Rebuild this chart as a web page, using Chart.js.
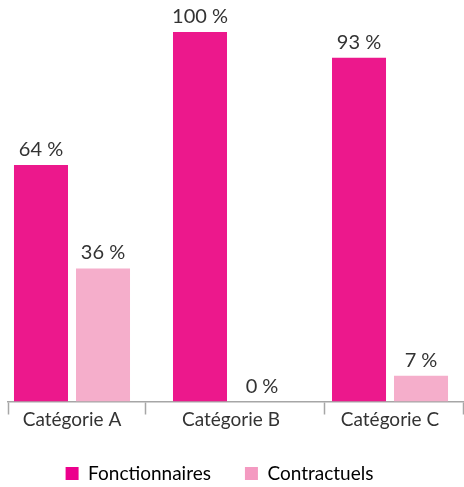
<!DOCTYPE html>
<html>
<head>
<meta charset="utf-8">
<script src="https://cdn.jsdelivr.net/npm/chart.js@4"></script>
<style>
  html, body { margin: 0; padding: 0; background: #fff; }
  #wrap { width: 464px; height: 487px; }
</style>
</head>
<body>
<div id="wrap"><canvas id="statutChart"></canvas></div>
<script>
const categories = ['Catégorie A', 'Catégorie B', 'Catégorie C'];
const fonctionnaires = [64, 100, 93];
const contractuels = [36, 0, 7];
// limites des catégories sur l'axe (unités de l'axe x)
const separateurs = [-0.4025, 0.465, 1.585, 2.459];

const barColors = ['#EC188C', '#F5AECB'];
const legendColors = ['#EC008C', '#F49AC1'];

Chart.defaults.font.family = 'Lato, "Open Sans", sans-serif';
Chart.defaults.color = '#333333';

// Étiquettes de valeur au-dessus des barres
const valueLabels = {
    id: 'valueLabels',
    afterDatasetsDraw(chart) {
        const ctx = chart.ctx;
        ctx.save();
        ctx.font = '20px Lato';
        ctx.fillStyle = '#333333';
        ctx.textAlign = 'center';
        ctx.textBaseline = 'alphabetic';
        chart.data.datasets.forEach((ds, di) => {
            chart.getDatasetMeta(di).data.forEach((bar, i) => {
                ctx.fillText(ds.data[i].y + ' %', bar.x, bar.y - 9);
            });
        });
        ctx.restore();
    }
};

// la légende d'origine est un peu décalée vers la gauche
const legendShift = {
    id: 'legendShift',
    afterLayout(chart) {
        chart.legend.left -= 16;
        chart.legend.right -= 16;
    }
};

new Chart(document.getElementById('statutChart'), {
    type: 'bar',
    data: {
        datasets: [
            {
                label: 'Fonctionnaires',
                data: fonctionnaires.map((v, i) => ({ x: i, y: v })),
                backgroundColor: barColors[0]
            },
            {
                label: 'Contractuels',
                data: contractuels.map((v, i) => ({ x: i, y: v })),
                backgroundColor: barColors[1]
            }
        ]
    },
    options: {
        responsive: true,
        maintainAspectRatio: false,
        animation: false,
        categoryPercentage: 0.78,
        barPercentage: 0.871,
        layout: { padding: { top: 32, left: 8, right: 1, bottom: 0 } },
        plugins: {
            tooltip: { enabled: false },
            legend: {
                position: 'bottom',
                maxHeight: 57,
                labels: {
                    boxWidth: 13,
                    boxHeight: 13,
                    padding: 34,
                    color: '#333333',
                    font: { size: 19 },
                    generateLabels: (chart) => chart.data.datasets.map((ds, i) => ({
                        text: ds.label,
                        fillStyle: legendColors[i],
                        strokeStyle: legendColors[i],
                        lineWidth: 0,
                        datasetIndex: i
                    }))
                }
            }
        },
        scales: {
            x: {
                type: 'linear',
                offset: false,
                bounds: 'data',
                min: separateurs[0],
                max: separateurs[separateurs.length - 1],
                afterBuildTicks: (scale) => {
                    scale.ticks = categories.map((c, i) => ({ value: i }));
                },
                grid: { display: false, offset: false, drawTicks: true, tickLength: 7.7 },
                border: { display: false },
                ticks: {
                    padding: 0.9,
                    color: '#333333',
                    font: { size: 19, lineHeight: 1 },
                    maxRotation: 0,
                    autoSkip: false,
                    callback: (value, index) => categories[index]
                }
            },
            xs: {
                type: 'linear',
                position: { y: 0 },
                offset: false,
                bounds: 'data',
                min: separateurs[0],
                max: separateurs[separateurs.length - 1],
                afterBuildTicks: (scale) => {
                    scale.ticks = separateurs.map(v => ({ value: v }));
                },
                grid: {
                    offset: false,
                    drawOnChartArea: false,
                    drawTicks: true,
                    tickLength: 12,
                    tickColor: '#A6A6A6',
                    tickWidth: 1.5
                },
                border: { color: '#A6A6A6', width: 1.5 },
                ticks: { display: false }
            },
            y: {
                display: false,
                min: 0,
                max: 100
            }
        }
    },
    plugins: [valueLabels, legendShift]
});
</script>
</body>
</html>
